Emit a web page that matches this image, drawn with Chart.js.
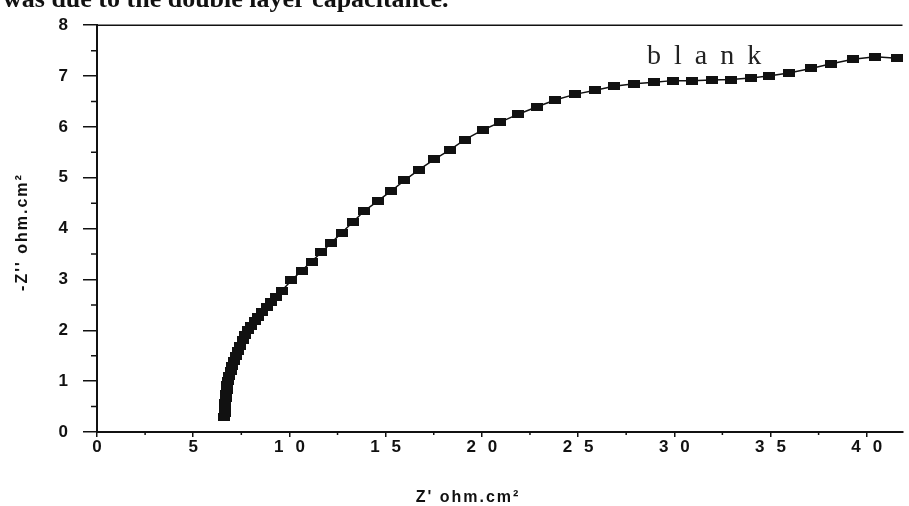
<!DOCTYPE html>
<html>
<head>
<meta charset="utf-8">
<title>blank</title>
<script src="https://cdn.jsdelivr.net/npm/chart.js@4.4.1/dist/chart.umd.min.js"></script>
<style>
  body { margin: 0; background: #fff; overflow: hidden; }
  #chart { display: block; }
</style>
</head>
<body>
<canvas id="chart" width="909" height="506"></canvas>
<script>
// impedance points, Z' and -Z'' in ohm.cm2
const zReal = [6.62, 6.63, 6.64, 6.65, 6.66, 6.68, 6.70, 6.73, 6.77, 6.81,
  6.87, 6.94, 7.02, 7.11, 7.21, 7.32, 7.44, 7.57, 7.71, 7.86,
  8.02, 8.20, 8.39, 8.60, 8.82, 9.06, 9.32, 9.60, 10.10, 10.63,
  11.15, 11.65, 12.17, 12.72, 13.30, 13.90, 14.62, 15.29, 15.98, 16.74,
  17.53, 18.34, 19.12, 20.05, 20.93, 21.89, 22.84, 23.81, 24.83, 25.90,
  26.86, 27.92, 28.96, 29.91, 30.91, 31.94, 32.94, 33.97, 34.90, 35.95,
  37.10, 38.16, 39.29, 40.45, 41.56];
const zImag = [0.30, 0.37, 0.44, 0.51, 0.58, 0.66, 0.74, 0.83, 0.92, 1.01,
  1.10, 1.20, 1.30, 1.40, 1.50, 1.60, 1.70, 1.80, 1.90, 2.00,
  2.09, 2.18, 2.27, 2.36, 2.45, 2.55, 2.66, 2.78, 2.98, 3.17,
  3.35, 3.53, 3.72, 3.92, 4.13, 4.35, 4.55, 4.74, 4.95, 5.16,
  5.36, 5.55, 5.75, 5.94, 6.09, 6.25, 6.39, 6.53, 6.64, 6.72,
  6.80, 6.85, 6.88, 6.91, 6.91, 6.92, 6.93, 6.96, 7.00, 7.06,
  7.15, 7.24, 7.33, 7.38, 7.35];

const xTicks = [0, 5, 10, 15, 20, 25, 30, 35, 40];
const xTickText = ['0', '5', '1\u2002\u20090', '1\u2002\u20095', '2\u2002\u20090',
  '2\u2002\u20095', '3\u2002\u20090', '3\u2002\u20095', '4\u2002\u20090'];
const yTicks = [0, 1, 2, 3, 4, 5, 6, 7, 8];

const seriesName = 'blank';
const xTitle = "Z' ohm.cm\u00b2";
const yTitle = "-Z'' ohm.cm\u00b2";
const captionText = 'was due to the double layer capacitance.';

const ink = '#111';
const sans = '"Liberation Sans", Arial, sans-serif';
const serif = '"Liberation Serif", "Times New Roman", serif';

Chart.defaults.font.family = sans;
Chart.defaults.color = ink;

function makeMarker() {
    const c = document.createElement('canvas');
    c.width = 12;
    c.height = 8;
    const g = c.getContext('2d');
    g.fillStyle = ink;
    g.fillRect(0, 0, 12, 8);
    return c;
}

const points = zReal.map((x, i) => ({ x: x, y: zImag[i] }));

// frame top, half-step ticks and all the free text
const axisExtras = {
    id: 'axisExtras',
    afterDraw(chart) {
        const ctx = chart.ctx;
        const area = chart.chartArea;
        const xs = chart.scales.x;
        const ys = chart.scales.y;
        ctx.save();
        ctx.strokeStyle = ink;
        ctx.lineWidth = 1.5;
        ctx.beginPath();
        ctx.moveTo(area.left, area.top);
        ctx.lineTo(area.right, area.top);
        ctx.stroke();

        ctx.beginPath();
        for (let v = 2.5; v < xs.max; v += 5) {
            const px = xs.getPixelForValue(v);
            ctx.moveTo(px, area.bottom);
            ctx.lineTo(px, area.bottom + 3);
        }
        for (let v = 0.5; v < ys.max; v += 1) {
            const py = ys.getPixelForValue(v);
            ctx.moveTo(area.left, py);
            ctx.lineTo(area.left - 6, py);
        }
        ctx.stroke();

        ctx.fillStyle = ink;
        ctx.letterSpacing = '2px';
        ctx.font = 'bold 16px ' + sans;
        ctx.textAlign = 'center';
        ctx.textBaseline = 'alphabetic';
        ctx.fillText(xTitle, 468, 502);

        ctx.save();
        ctx.translate(23, 232);
        ctx.rotate(-Math.PI / 2);
        ctx.textBaseline = 'middle';
        ctx.fillText(yTitle, 0, 0);
        ctx.restore();

        ctx.textAlign = 'left';
        ctx.letterSpacing = '13px';
        ctx.font = '28px ' + serif;
        ctx.fillStyle = '#222';
        ctx.fillText(seriesName, 647, 64);

        // running text of the page, cut by the top edge
        ctx.letterSpacing = '0px';
        ctx.font = 'bold 26px ' + serif;
        ctx.fillStyle = ink;
        ctx.fillText(captionText, 3, 7);
        ctx.restore();
    }
};

const chart = new Chart(document.getElementById('chart'), {
    type: 'scatter',
    data: {
        datasets: [{
            label: seriesName,
            data: points,
            showLine: true,
            borderColor: ink,
            borderWidth: 1.5,
            pointStyle: makeMarker(),
            pointRadius: 5,
            clip: false
        }]
    },
    options: {
        responsive: false,
        animation: false,
        layout: { padding: { top: 20, right: 0, left: 0, bottom: 0 } },
        plugins: {
            legend: { display: false },
            tooltip: { enabled: false }
        },
        scales: {
            x: {
                type: 'linear',
                min: 0,
                max: 41.86,
                afterFit: s => { s.height = 74; },
                afterBuildTicks: s => { s.ticks = xTicks.map(v => ({ value: v })); },
                ticks: {
                    includeBounds: false,
                    font: { size: 17, weight: 'bold' },
                    color: ink,
                    padding: 0,
                    maxRotation: 0,
                    callback: v => xTickText[xTicks.indexOf(v)]
                },
                grid: { drawOnChartArea: false, tickLength: 5, color: ink, lineWidth: 1.5 },
                border: { display: true, color: ink, width: 2 }
            },
            y: {
                type: 'linear',
                min: 0,
                max: 8,
                afterFit: s => { s.width = 97; },
                afterBuildTicks: s => { s.ticks = yTicks.map(v => ({ value: v })); },
                ticks: {
                    font: { size: 17, weight: 'bold' },
                    color: ink,
                    padding: 15
                },
                grid: { drawOnChartArea: false, tickLength: 14, color: ink, lineWidth: 1.5 },
                border: { display: true, color: ink, width: 2 }
            }
        }
    },
    plugins: [axisExtras]
});
</script>
</body>
</html>
